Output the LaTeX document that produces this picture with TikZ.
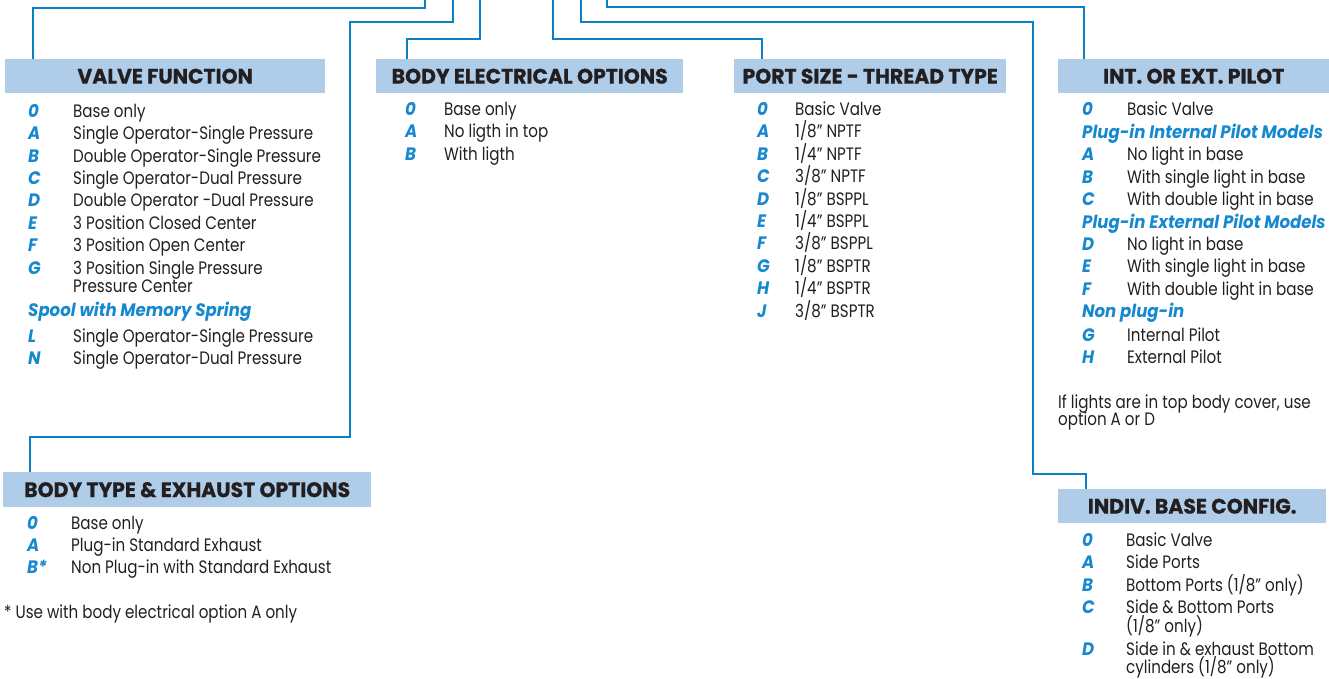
\documentclass[tikz,border=0pt]{standalone}
\usepackage{fontspec}
\setmainfont{Poppins}[FakeStretch=0.84]
\newfontfamily\hdrfont{Poppins}[FakeStretch=0.97, FakeBold=0.8]
\newfontfamily\keyfont{Poppins}[FakeStretch=0.92]

\definecolor{leadblue}{HTML}{0A80C6}
\definecolor{hdrfill}{HTML}{AFCCE9}
\definecolor{keyblue}{HTML}{1588D0}
\definecolor{txtgray}{HTML}{231F20}

\tikzset{
  lead/.style={leadblue, line width=2.6pt},
  hdr/.style={fill=hdrfill, anchor=north west, minimum height=34pt, inner sep=0pt,
    text=txtgray, font=\hdrfont\bfseries\fontsize{21}{22}\selectfont},
  key/.style={anchor=base west, inner sep=0pt, text=keyblue,
    font=\keyfont\bfseries\itshape\fontsize{18}{19}\selectfont},
  desc/.style={anchor=base west, inner sep=0pt, text=txtgray,
    font=\fontsize{18}{19}\selectfont},
}

\begin{document}
\begin{tikzpicture}[x=1pt,y=-1pt]
\useasboundingbox (0,0) rectangle (1329,679);

% headers
\node[hdr, minimum width=320pt] (vf) at (5,59) {VALVE FUNCTION};
\node[hdr, minimum width=307pt] (be) at (376,59) {BODY ELECTRICAL OPTIONS};
\node[hdr, minimum width=272pt] (ps) at (734,59) {PORT SIZE - THREAD TYPE};
\node[hdr, minimum width=271pt] (ip) at (1058,59) {INT. OR EXT. PILOT};
\node[hdr, minimum width=368pt, minimum height=35pt] (bt) at (3,472) {BODY TYPE \& EXHAUST OPTIONS};
\node[hdr, minimum width=268pt] (ib) at (1058,489) {INDIV. BASE CONFIG.};

% leads from the part number
\coordinate (tA) at (425,-2);
\coordinate (tB) at (453,-2);
\coordinate (tC) at (480,-2);
\coordinate (tD) at (553,-2);
\coordinate (tE) at (581,-2);
\coordinate (tF) at (607,-2);
\draw[lead] (tA) -- ++(0,10) -| ([xshift=28pt]vf.north west);
\draw[lead] (tB) -- ++(0,24) -| (350,437) -| ([xshift=27pt]bt.north west);
\draw[lead] (tC) -- ++(0,41) -| ([xshift=31pt]be.north west);
\draw[lead] (tD) -- ++(0,41) -| ([xshift=28pt]ps.north west);
\draw[lead] (tE) -- ++(0,24) -| (1033,474) -| ([xshift=28pt]ib.north west);
\draw[lead] (tF) -- ++(0,9) -| ([xshift=26pt]ip.north west);

% valve function
\foreach \k/\d [count=\i from 0] in {0/Base only, A/Single Operator-Single Pressure,
  B/Double Operator-Single Pressure, C/Single Operator-Dual Pressure,
  D/Double Operator -Dual Pressure, E/3 Position Closed Center,
  F/3 Position Open Center, G/3 Position Single Pressure}{
  \node[key] (vf-k\i) at (28,117.3+22.4*\i) {\k};
  \node[desc] (vf-d\i) at (73,117.3+22.4*\i) {\d};
}
\node[desc] (vf-d7b) at (73,292.4) {Pressure Center};
\node[key] (vf-spool) at (28,316) {Spool with Memory Spring};
\foreach \k/\d [count=\i from 0] in {L/Single Operator-Single Pressure, N/Single Operator-Dual Pressure}{
  \node[key] (vf-m\i) at (28,342.3+22.4*\i) {\k};
  \node[desc] (vf-n\i) at (73,342.3+22.4*\i) {\d};
}

% body electrical options
\foreach \k/\d [count=\i from 0] in {0/Base only, A/No ligth in top, B/With ligth}{
  \node[key] (be-k\i) at (405,115.5+22.4*\i) {\k};
  \node[desc] (be-d\i) at (444,115.5+22.4*\i) {\d};
}

% port size - thread type
\foreach \k/\d [count=\i from 0] in {0/Basic Valve, A/{1/8” NPTF}, B/{1/4” NPTF},
  C/{3/8” NPTF}, D/{1/8” BSPPL}, E/{1/4” BSPPL}, F/{3/8” BSPPL},
  G/{1/8” BSPTR}, H/{1/4” BSPTR}, J/{3/8” BSPTR}}{
  \node[key] (ps-k\i) at (757,115.5+22.4*\i) {\k};
  \node[desc] (ps-d\i) at (795,115.5+22.4*\i) {\d};
}

% int. or ext. pilot
\foreach \k/\d/\r in {0/Basic Valve/0, A/No light in base/2, B/With single light in base/3,
  C/With double light in base/4, D/No light in base/6, E/With single light in base/7,
  F/With double light in base/8, G/Internal Pilot/10.05, H/External Pilot/11.05}{
  \node[key] (ip-k\k) at (1082,116+22.4*\r) {\k};
  \node[desc] (ip-d\k) at (1127,116+22.4*\r) {\d};
}
\foreach \s/\r [count=\i] in {Plug-in Internal Pilot Models/1, Plug-in External Pilot Models/5, Non plug-in/9}
  \node[key] (ip-sub\i) at (1082,116+22.4*\r) {\s};
\node[desc] (ip-note1) at (1058,408.3) {If lights are in top body cover, use};
\node[desc] (ip-note2) at (1058,425.3) {option A or D};

% body type & exhaust options
\foreach \k/\d [count=\i from 0] in {0/Base only, A/Plug-in Standard Exhaust, B*/Non Plug-in with Standard Exhaust}{
  \node[key] (bt-k\i) at (27,529.3+22.2*\i) {\k};
  \node[desc] (bt-d\i) at (71,529.3+22.2*\i) {\d};
}
\node[desc] (bt-note) at (4,618.3) {* Use with body electrical option A only};

% indiv. base config.
\foreach \k/\d/\y in {0/Basic Valve/546.3, A/Side Ports/568.7, B/{Bottom Ports (1/8” only)}/591.1,
  C/Side \& Bottom Ports/613.5, D/Side in \& exhaust Bottom/655}{
  \node[key] (ib-k\k) at (1082,\y) {\k};
  \node[desc] (ib-d\k) at (1126,\y) {\d};
}
\node[desc] (ib-dCb) at (1126,632) {(1/8” only)};
\node[desc] (ib-dDb) at (1126,673.5) {cylinders (1/8” only)};
\end{tikzpicture}
\end{document}
